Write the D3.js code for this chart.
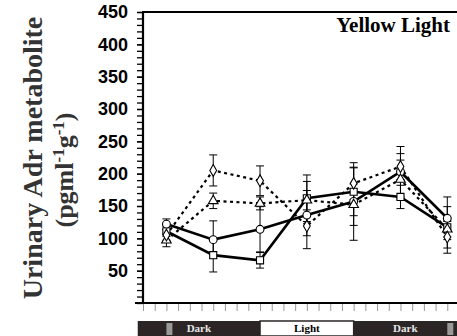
<!DOCTYPE html>
<html>
<head>
<meta charset="utf-8">
<script src="https://cdn.jsdelivr.net/npm/d3@7"></script>
<style>
  body { margin: 0; background: #fff; }
  svg { display: block; }
</style>
</head>
<body>
<div id="chart"></div>
<script>
// sampling times (hours) and the four series
const times = [2, 6, 10, 14, 18, 22, 26];
const circleVals = [122, 98, 114, 136, 157, 203, 131];
const circleErr = [8, 29, 35, 52, 60, 39, 33];
const squareVals = [111, 74, 66, 162, 172, 164, 117];
const squareErr = [8, 26, 12, 36, 37, 18, 32];
const diamondVals = [105, 205, 189, 119, 185, 211, 102];
const diamondErr = [8, 24, 23, 15, 25, 20, 25];
const triangleVals = [97, 158, 154, 159, 152, 191, 114];
const triangleErr = [10, 12, 10, 15, 32, 30, 12];

const yTicks = [50, 100, 150, 200, 250, 300, 350, 400, 450];
const phaseLabels = ['Dark', 'Light', 'Dark'];
const phaseBounds = [-0.45, 10, 18, 27.2];
const phaseMarks = [2, 26];

const width = 457, height = 336;
const svg = d3.select('#chart').append('svg')
  .attr('width', width)
  .attr('height', height);

const x = d3.scaleLinear().domain([0, 27]).range([143, 459]);
const y = d3.scaleLinear().domain([0, 450]).range([303, 12]);

const sans = '"Liberation Sans", Arial, sans-serif';
const serif = '"Liberation Serif", "Times New Roman", serif';

// y axis with dense minor ticks
const yMinor = svg.append('g')
  .attr('transform', 'translate(143,0)')
  .call(d3.axisLeft(y).tickValues(d3.range(0, 451, 10)).tickSize(6).tickFormat(''));
yMinor.select('.domain').remove();
yMinor.selectAll('line').attr('stroke', '#000').attr('stroke-width', 1.3);

const yAxis = svg.append('g')
  .attr('transform', 'translate(143,0)')
  .call(d3.axisLeft(y).tickValues(yTicks).tickSize(6).tickPadding(9));
yAxis.select('.domain').remove();
yAxis.selectAll('line').attr('stroke', '#000').attr('stroke-width', 1.3);
yAxis.selectAll('text')
  .attr('font-family', sans)
  .attr('font-weight', 'bold')
  .attr('font-size', 18)
  .attr('fill', '#000');

// x ticks (light grey, no labels)
const xAxis = svg.append('g')
  .attr('transform', 'translate(0,304)')
  .call(d3.axisBottom(x).tickValues(d3.range(0, 28)).tickSize(7).tickFormat(''));
xAxis.select('.domain').remove();
xAxis.selectAll('line').attr('stroke', '#999').attr('stroke-width', 1);

// frame lines
svg.append('line').attr('x1', 143).attr('x2', 143).attr('y1', y(450)).attr('y2', y(0))
  .attr('stroke', '#000').attr('stroke-width', 2.2);
svg.append('line').attr('x1', 135).attr('x2', width).attr('y1', y(0)).attr('y2', y(0))
  .attr('stroke', '#000').attr('stroke-width', 2.2);
svg.append('line').attr('x1', 142).attr('x2', width).attr('y1', y(450)).attr('y2', y(450))
  .attr('stroke', '#000').attr('stroke-width', 2.2);

// y title
const title = svg.append('g')
  .attr('font-family', serif)
  .attr('font-weight', 'bold')
  .attr('fill', '#333');
title.append('text')
  .attr('transform', 'translate(42,158) rotate(-90)')
  .attr('text-anchor', 'middle')
  .attr('font-size', 28)
  .text('Urinary Adr metabolite');
const unit = title.append('text')
  .attr('transform', 'translate(73,170) rotate(-90)')
  .attr('text-anchor', 'middle')
  .attr('font-size', 26);
unit.append('tspan').text('(pgml');
unit.append('tspan').attr('dy', -9).attr('font-size', 17).text('-1');
unit.append('tspan').attr('dy', 9).text('g');
unit.append('tspan').attr('dy', -9).attr('font-size', 17).text('-1');
unit.append('tspan').attr('dy', 9).text(')');

svg.append('text')
  .attr('x', 450).attr('y', 32)
  .attr('text-anchor', 'end')
  .attr('font-family', serif)
  .attr('font-weight', 'bold')
  .attr('font-size', 21)
  .text('Yellow Light');

// series
const series = [
  { vals: squareVals, err: squareErr, shape: 'square', dash: null },
  { vals: circleVals, err: circleErr, shape: 'circle', dash: null },
  { vals: triangleVals, err: triangleErr, shape: 'triangle', dash: '3,3.5' },
  { vals: diamondVals, err: diamondErr, shape: 'diamond', dash: '3,3.5' }
];

const errG = svg.append('g').attr('stroke', '#000').attr('stroke-width', 1);
series.forEach(s => {
  times.forEach((t, i) => {
    const cx = x(t), lo = y(s.vals[i] - s.err[i]), hi = y(s.vals[i] + s.err[i]);
    errG.append('line').attr('x1', cx).attr('x2', cx).attr('y1', lo).attr('y2', hi);
    errG.append('line').attr('x1', cx - 4).attr('x2', cx + 4).attr('y1', lo).attr('y2', lo);
    errG.append('line').attr('x1', cx - 4).attr('x2', cx + 4).attr('y1', hi).attr('y2', hi);
  });
});

const lineGen = d3.line().x((d, i) => x(times[i])).y(d => y(d));
series.forEach(s => {
  svg.append('path')
    .attr('d', lineGen(s.vals))
    .attr('fill', 'none')
    .attr('stroke', '#000')
    .attr('stroke-width', s.dash ? 2.2 : 2.6)
    .attr('stroke-dasharray', s.dash);
});

const symbols = {
  square: d3.symbol().type(d3.symbolSquare).size(50),
  circle: d3.symbol().type(d3.symbolCircle).size(48),
  triangle: d3.symbol().type(d3.symbolTriangle).size(40),
  diamond: d3.symbol().type(d3.symbolDiamond).size(40)
};
series.forEach(s => {
  svg.append('g').selectAll('path')
    .data(s.vals)
    .join('path')
    .attr('transform', (d, i) => `translate(${x(times[i])},${y(d)})`)
    .attr('d', symbols[s.shape])
    .attr('fill', '#fff')
    .attr('stroke', '#000')
    .attr('stroke-width', 1.1);
});

// light / dark bar
const barY = 321, barH = 15;
const bar = svg.append('g');
phaseLabels.forEach((lab, i) => {
  const x0 = x(phaseBounds[i]), x1 = Math.min(x(phaseBounds[i + 1]), width);
  const isLight = lab === 'Light';
  bar.append('rect')
    .attr('x', x0).attr('y', barY).attr('width', x1 - x0).attr('height', barH)
    .attr('fill', isLight ? '#fff' : '#2b2525')
    .attr('stroke', '#2b2525').attr('stroke-width', isLight ? 1.5 : 0);
  bar.append('text')
    .attr('x', (x0 + x1) / 2).attr('y', barY + 11)
    .attr('text-anchor', 'middle')
    .attr('font-family', serif)
    .attr('font-weight', 'bold')
    .attr('font-size', 11)
    .attr('fill', isLight ? '#000' : '#e6e6e6')
    .text(lab);
});
phaseMarks.forEach(t => {
  bar.append('rect')
    .attr('x', x(t)).attr('y', barY + 2).attr('width', 6).attr('height', barH - 3)
    .attr('fill', '#999');
});
</script>
</body>
</html>
